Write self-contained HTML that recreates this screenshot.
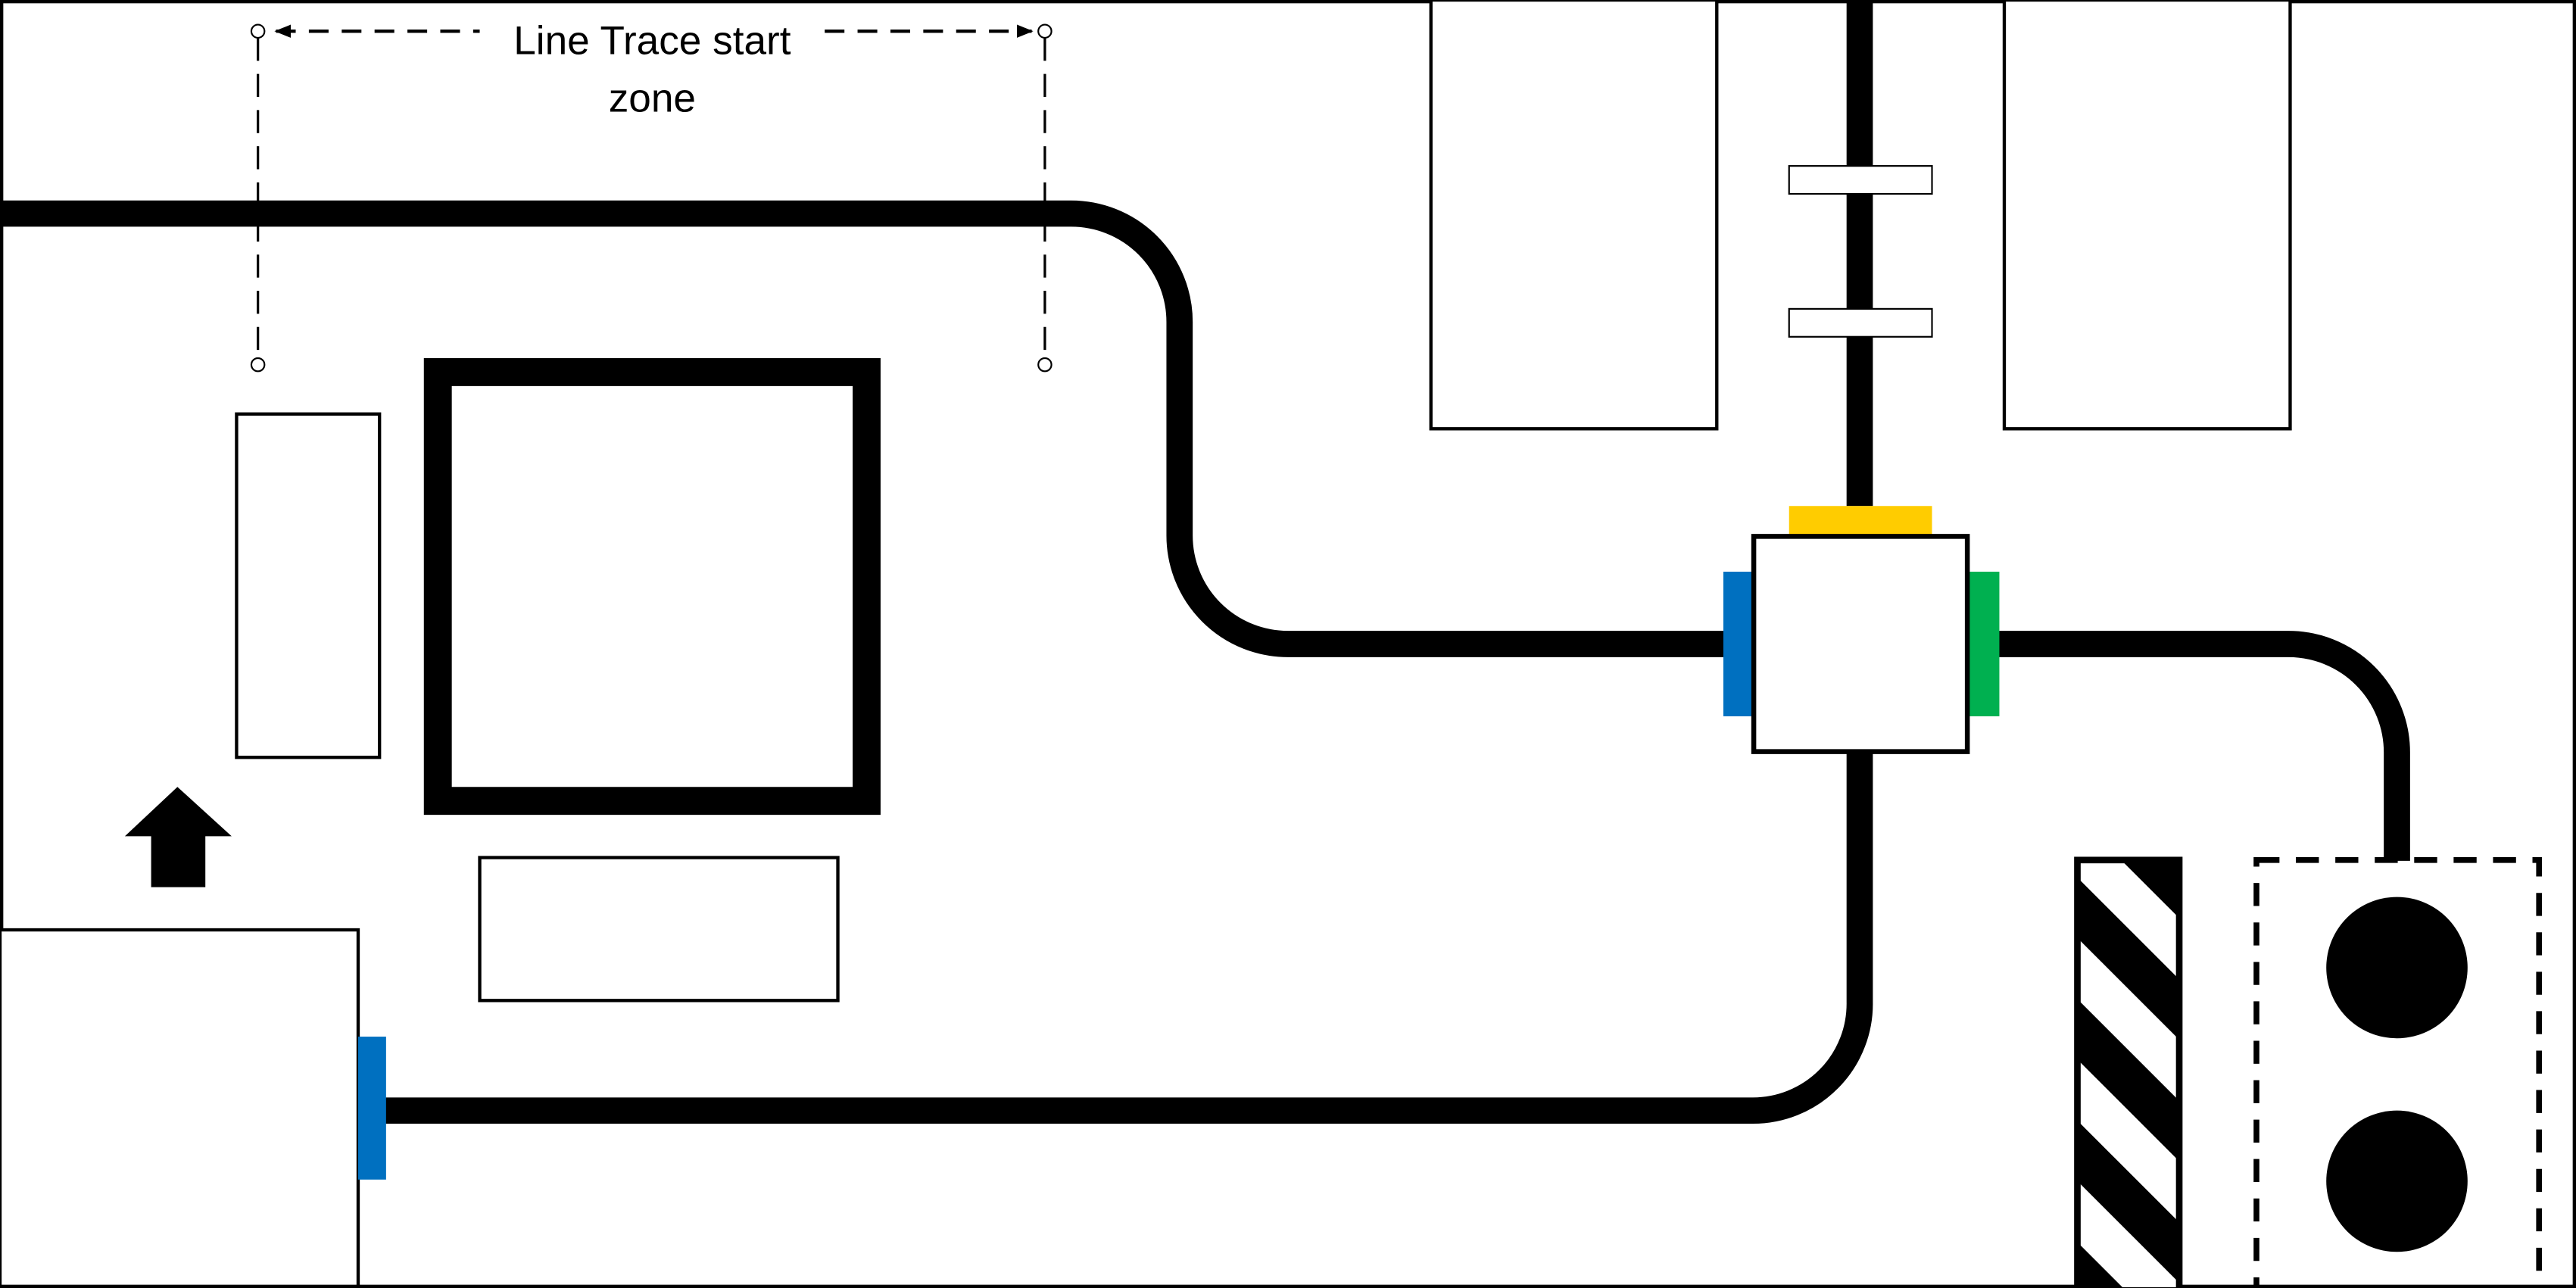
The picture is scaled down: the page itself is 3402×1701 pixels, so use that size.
<!DOCTYPE html>
<html><head><meta charset="utf-8"><style>html,body{margin:0;padding:0;background:#fff;overflow:hidden;width:3402px;height:1701px}svg{display:block}</style></head>
<body>
<svg width="3402" height="1701" viewBox="0 0 1568 784" xmlns="http://www.w3.org/2000/svg">
<defs>
<clipPath id="sc"><rect x="1263" y="522" width="65" height="262"/></clipPath>
<clipPath id="all"><rect x="0" y="0" width="1568" height="784"/></clipPath>
<marker id="al" markerWidth="10" markerHeight="8" refX="1" refY="4" orient="auto" markerUnits="userSpaceOnUse"><path d="M10,0 L0,4 L10,8 z" fill="#000"/></marker>
<marker id="ar" markerWidth="10" markerHeight="8" refX="9" refY="4" orient="auto" markerUnits="userSpaceOnUse"><path d="M0,0 L10,4 L0,8 z" fill="#000"/></marker>
</defs>
<g clip-path="url(#all)">
<rect x="1" y="1" width="1566" height="782" fill="#fff" stroke="#000" stroke-width="2"/>
<rect x="871" y="0" width="174" height="261" fill="#fff" stroke="#000" stroke-width="2"/>
<rect x="1220" y="0" width="174" height="261" fill="#fff" stroke="#000" stroke-width="2"/>
<g fill="none" stroke="#000" stroke-width="16">
<path d="M0,130 H652 A66,66 0 0 1 718,196 V326 A66,66 0 0 0 784,392 H1067"/>
<path d="M1198,392 H1393 A66,66 0 0 1 1459,458 V524"/>
<path d="M1132,0 V308"/>
<path d="M1132,458 V610 A65,65 0 0 1 1067,676 H232"/>
</g>
<rect x="1089" y="101" width="87" height="17" fill="#fff" stroke="#000" stroke-width="1"/>
<rect x="1089" y="188" width="87" height="17" fill="#fff" stroke="#000" stroke-width="1"/>
<rect x="1089" y="308" width="87" height="18" fill="#FFCC00"/>
<rect x="1049" y="348" width="18" height="88" fill="#0070C0"/>
<rect x="1198" y="348" width="19" height="88" fill="#00B050"/>
<rect x="1067.5" y="326.5" width="130" height="131" fill="#fff" stroke="#000" stroke-width="3"/>
<rect x="0" y="566" width="218" height="217" fill="#fff" stroke="#000" stroke-width="2"/>
<rect x="218" y="631" width="17" height="87" fill="#0070C0"/>
<rect x="144" y="252" width="87" height="209" fill="#fff" stroke="#000" stroke-width="2"/>
<rect x="266.5" y="226.5" width="261" height="261" fill="none" stroke="#000" stroke-width="17"/>
<rect x="292" y="522" width="218" height="87" fill="#fff" stroke="#000" stroke-width="2"/>
<polygon points="76,509 108,479 141,509 125,509 125,540 92,540 92,509" fill="#000"/>
<g stroke="#000" stroke-width="1.5" stroke-dasharray="14,8" fill="none">
<line x1="157" y1="23" x2="157" y2="218"/>
<line x1="636" y1="23" x2="636" y2="218"/>
</g>
<g stroke="#000" stroke-width="2" stroke-dasharray="12,8" fill="none">
<line x1="168" y1="19" x2="292" y2="19" marker-start="url(#al)"/>
<line x1="502" y1="19" x2="628" y2="19" marker-end="url(#ar)"/>
</g>
<g fill="#fff" stroke="#000" stroke-width="1">
<circle cx="157" cy="19" r="4"/><circle cx="636" cy="19" r="4"/>
<circle cx="157" cy="222" r="4"/><circle cx="636" cy="222" r="4"/>
</g>
<text x="397" y="33" font-family="Liberation Sans, sans-serif" font-size="24.5" text-anchor="middle">Line Trace start</text>
<text x="397" y="68" font-family="Liberation Sans, sans-serif" font-size="24.5" text-anchor="middle">zone</text>
<rect x="1263" y="522" width="65" height="262" fill="#fff"/>
<g clip-path="url(#sc)" stroke="#000" stroke-width="26">
<line x1="1163" y1="377" x2="1463" y2="677"/>
<line x1="1163" y1="451" x2="1463" y2="751"/>
<line x1="1163" y1="525" x2="1463" y2="825"/>
<line x1="1163" y1="599" x2="1463" y2="899"/>
<line x1="1163" y1="673" x2="1463" y2="973"/>
</g>
<rect x="1264.5" y="523.5" width="62" height="262" fill="none" stroke="#000" stroke-width="4"/>
<rect x="1373.5" y="523.5" width="172" height="262" fill="none" stroke="#000" stroke-width="3.5" stroke-dasharray="14,10"/>
<circle cx="1459" cy="589" r="43" fill="#000"/>
<circle cx="1459" cy="719" r="43" fill="#000"/>
</g>
</svg>
</body></html>
